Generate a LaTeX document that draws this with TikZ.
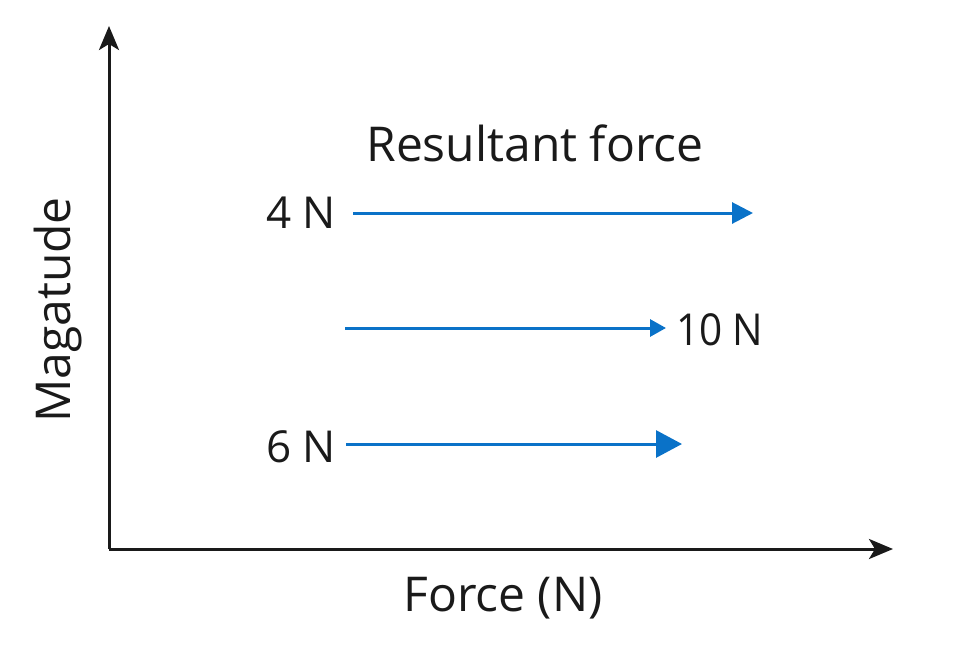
\documentclass[tikz,border=0pt]{standalone}
\usepackage{fontspec}
\setmainfont{Open Sans}
\usetikzlibrary{arrows.meta}
\definecolor{axisk}{HTML}{1A1A1A}
\definecolor{forceblue}{HTML}{0A72C8}
\tikzset{
  axisline/.style={draw=axisk, line width=3pt, -{Stealth[length=24pt,width=20pt,inset=6pt]}},
  forcearrow/.style={draw=forceblue, line width=3pt},
  lbl/.style={text=axisk, font=\fontsize{44}{50}\selectfont, inner sep=0pt},
  wordlbl/.style={text=axisk, font=\fontsize{48}{54}\selectfont, inner sep=0pt},
}
\begin{document}
\begin{tikzpicture}[x=1pt,y=-1pt]
\useasboundingbox (0,0) rectangle (980,653);
\coordinate (O) at (109,549);
\coordinate (ytip) at (109,26);
\coordinate (xtip) at (893,549);
\draw[axisline] (O) -- (ytip);
\draw[axisline] (O) -- (xtip);
% force arrows
\coordinate (a1s) at (353,213);
\coordinate (a1e) at (753,213);
\coordinate (a2s) at (345,328);
\coordinate (a2e) at (666,328);
\coordinate (a3s) at (346,444);
\coordinate (a3e) at (682,444);
\draw[forcearrow, -{Triangle[length=21pt,width=21pt]}] (a1s) -- (a1e);
\draw[forcearrow, -{Triangle[length=16pt,width=17pt]}] (a2s) -- (a2e);
\draw[forcearrow, -{Triangle[length=26pt,width=27pt]}] (a3s) -- (a3e);
% labels
\node[wordlbl] (title) at (535,143) {Resultant force};
\node[lbl, anchor=east] (l4) at (336,213) {4 N};
\node[lbl, anchor=west, xscale=0.92] (l10) at (676,330) {10 N};
\node[lbl, anchor=east] (l6) at (336,447) {6 N};
\node[wordlbl, rotate=90] (ylab) at (58,310) {Magatude};
\node[wordlbl] (xlab) at (503,598) {Force (N)};
\end{tikzpicture}
\end{document}
